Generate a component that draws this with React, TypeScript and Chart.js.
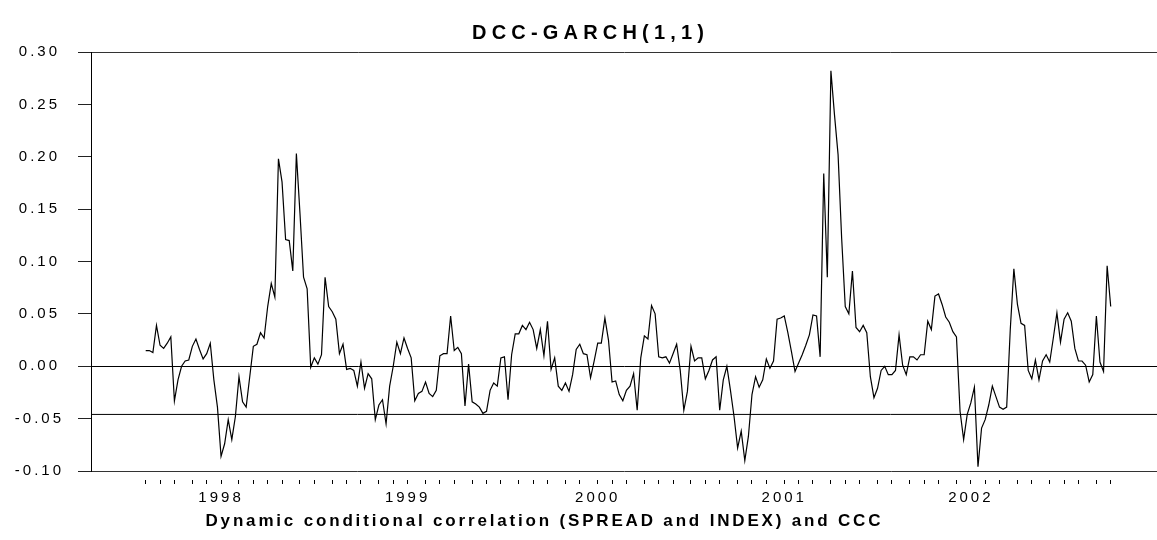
import React, { useEffect, useRef } from "react";
import { Chart, registerables } from "chart.js";

Chart.register(...registerables);

// ---- Data (weekly observations, first one dated 1997-08-08) ----
const startDate = "1997-08-08";

const corr1997 = [
  0.015, 0.015, 0.013, 0.039, 0.020, 0.017, 0.022, 0.028, -0.033, -0.013,
  0.000, 0.005, 0.006, 0.019, 0.026, 0.016, 0.007, 0.012, 0.022, -0.013,
  -0.039,
];
const corr1998 = [
  -0.086, -0.074, -0.051, -0.070, -0.048, -0.010, -0.034, -0.039, -0.010, 0.019,
  0.021, 0.032, 0.027, 0.057, 0.079, 0.066, 0.198, 0.176, 0.121, 0.120,
  0.091, 0.203, 0.146, 0.085, 0.074, -0.001, 0.008, 0.002, 0.011, 0.085,
  0.057, 0.052, 0.045, 0.012, 0.021, -0.003, -0.002, -0.004, -0.019, 0.004,
  -0.021, -0.007, -0.012, -0.051, -0.037, -0.032, -0.055, -0.019, 0.000, 0.023,
  0.012, 0.027,
];
const corr1999 = [
  0.017, 0.008, -0.033, -0.026, -0.024, -0.015, -0.026, -0.029, -0.023, 0.010,
  0.012, 0.012, 0.048, 0.015, 0.018, 0.012, -0.038, 0.002, -0.034, -0.036,
  -0.039, -0.045, -0.043, -0.023, -0.016, -0.019, 0.008, 0.009, -0.032, 0.011,
  0.031, 0.031, 0.039, 0.035, 0.042, 0.035, 0.017, 0.035, 0.010, 0.043,
  -0.003, 0.008, -0.019, -0.023, -0.016, -0.024, -0.008, 0.016, 0.021, 0.012,
  0.011, -0.011, 0.005,
];
const corr2000 = [
  0.022, 0.022, 0.046, 0.025, -0.015, -0.014, -0.027, -0.033, -0.023, -0.019,
  -0.007, -0.042, 0.008, 0.029, 0.026, 0.058, 0.050, 0.009, 0.008, 0.009,
  0.003, 0.012, 0.021, -0.004, -0.042, -0.024, 0.019, 0.005, 0.008, 0.008,
  -0.012, -0.004, 0.006, 0.009, -0.042, -0.013, 0.000, -0.023, -0.048, -0.078,
  -0.062, -0.090, -0.067, -0.027, -0.010, -0.020, -0.013, 0.007, -0.002, 0.005,
  0.045, 0.046,
];
const corr2001 = [
  0.048, 0.032, 0.014, -0.005, 0.003, 0.011, 0.020, 0.030, 0.049, 0.048,
  0.009, 0.184, 0.085, 0.282, 0.240, 0.202, 0.122, 0.057, 0.050, 0.091,
  0.037, 0.033, 0.039, 0.032, -0.010, -0.030, -0.021, -0.004, 0.000, -0.008,
  -0.008, -0.004, 0.030, 0.001, -0.008, 0.009, 0.009, 0.006, 0.011, 0.011,
  0.043, 0.035, 0.067, 0.069, 0.059, 0.047, 0.042, 0.033, 0.028, -0.043,
  -0.070, -0.046,
];
const corr2002 = [
  -0.035, -0.020, -0.096, -0.059, -0.051, -0.037, -0.019, -0.029, -0.039, -0.041,
  -0.039, 0.035, 0.093, 0.059, 0.041, 0.039, -0.004, -0.012, 0.006, -0.013,
  0.005, 0.011, 0.004, 0.027, 0.051, 0.023, 0.045, 0.051, 0.043, 0.017,
  0.005, 0.005, 0.001, -0.015, -0.008, 0.048, 0.004, -0.005, 0.096, 0.057,
];

const cccValue = -0.046;
const yTickValues = [-0.1, -0.05, 0, 0.05, 0.1, 0.15, 0.2, 0.25, 0.3];
const chartTitle = "DCC-GARCH(1,1)";
const xAxisTitle = "Dynamic conditional correlation (SPREAD and INDEX) and CCC";

// ---- Derived tables ----
const dccSeries = [...corr1997, ...corr1998, ...corr1999, ...corr2000, ...corr2001, ...corr2002];
const DAY = 86400000;
const t0 = Date.parse(startDate + "T00:00:00Z");
const weekDates = dccSeries.map((_, i) => new Date(t0 + i * 7 * DAY));
const monthTickIdx: number[] = [];
const yearLabelAt: Record<number, string> = {};
weekDates.forEach((d, i) => {
  if (i === 0 || d.getUTCMonth() !== weekDates[i - 1].getUTCMonth()) {
    monthTickIdx.push(i);
    if (d.getUTCMonth() === 0) yearLabelAt[i] = String(d.getUTCFullYear());
  }
});

const FONT = '"Liberation Sans", Arial, Helvetica, sans-serif';
const X_MIN = -15.25;
const X_MAX = 281.9;

function drawSpaced(ctx: CanvasRenderingContext2D, text: string, font: string, cx: number, cy: number, width: number) {
  ctx.save();
  ctx.font = font;
  (ctx as any).letterSpacing = "0px";
  const natural = ctx.measureText(text).width;
  const s = (width - natural) / (text.length - 1);
  (ctx as any).letterSpacing = s + "px";
  ctx.fillStyle = "#000";
  ctx.textBaseline = "middle";
  ctx.textAlign = "left";
  ctx.fillText(text, cx - width / 2, cy);
  ctx.restore();
}

const textPlugin = {
  id: "eviewsText",
  beforeLayout(chart: any) {
    chart.ctx.letterSpacing = "3px";
  },
  beforeDraw(chart: any) {
    chart.ctx.letterSpacing = "3px";
  },
  afterDraw(chart: any) {
    const ctx = chart.ctx as CanvasRenderingContext2D;
    drawSpaced(ctx, chartTitle, `bold 20px ${FONT}`, 588, 33, 232);
    drawSpaced(ctx, xAxisTitle, `bold 17px ${FONT}`, 543, 521, 675);
  },
};

export default function App() {
  const ref = useRef<HTMLCanvasElement | null>(null);

  useEffect(() => {
    if (!ref.current) return;
    Chart.defaults.font.family = FONT;
    const chart = new Chart(ref.current, {
      type: "line",
      data: {
        datasets: [
          {
            label: "DCC",
            data: dccSeries.map((v, i) => ({ x: i, y: v })),
            borderColor: "#000",
            borderWidth: 1.2,
            pointRadius: 0,
            tension: 0,
            fill: false,
          },
          {
            label: "CCC",
            data: [
              { x: X_MIN, y: cccValue },
              { x: X_MAX, y: cccValue },
            ],
            borderColor: "#000",
            borderWidth: 1,
            pointRadius: 0,
            fill: false,
          },
        ],
      },
      options: {
        responsive: false,
        devicePixelRatio: 1,
        animation: false,
        events: [],
        layout: { padding: { top: 52, left: 0, right: 0, bottom: 0 } },
        plugins: {
          legend: { display: false },
          tooltip: { enabled: false },
          title: { display: false },
        },
        scales: {
          x: {
            type: "linear",
            min: X_MIN,
            max: X_MAX,
            afterBuildTicks: (s: any) => {
              s.ticks = monthTickIdx.map((v) => ({ value: v }));
            },
            afterFit: (s: any) => {
              s.height = 69;
            },
            ticks: {
              autoSkip: false,
              maxRotation: 0,
              minRotation: 0,
              padding: 5,
              color: "#000",
              font: { family: FONT, size: 15 },
              callback: (v: any) => yearLabelAt[v as number] ?? "",
            },
            grid: {
              drawOnChartArea: false,
              drawTicks: true,
              tickLength: 13,
              tickColor: "#000",
              tickWidth: 1,
              tickBorderDash: [0, 8, 5, 100],
            },
            border: { display: true, color: "#333", width: 1 },
          },
          y: {
            type: "linear",
            min: -0.1,
            max: 0.3,
            afterBuildTicks: (s: any) => {
              s.ticks = yTickValues.map((v) => ({ value: v }));
            },
            afterFit: (s: any) => {
              s.width = 91;
            },
            ticks: {
              padding: 14,
              crossAlign: "center",
              color: "#000",
              font: { family: FONT, size: 15 },
              callback: (v: any) => Number(v).toFixed(2),
            },
            grid: {
              drawOnChartArea: true,
              drawTicks: true,
              tickLength: 13,
              tickColor: "#222",
              lineWidth: 1,
              color: (c: any) => {
                const t = c.tick ? c.tick.value : NaN;
                if (Math.abs(t) < 1e-9) return "#000";
                if (Math.abs(t - 0.3) < 1e-9) return "#333";
                return "rgba(0,0,0,0)";
              },
            },
            border: { display: true, color: "#000", width: 1 },
          },
        },
      },
      plugins: [textPlugin],
    } as any);
    return () => chart.destroy();
  }, []);

  return (
    <div style={{ position: "absolute", left: 0, top: 0, width: 1157, height: 540, background: "#fff" }}>
      <canvas ref={ref} width={1157} height={540} style={{ display: "block", width: 1157, height: 540 }} />
    </div>
  );
}
